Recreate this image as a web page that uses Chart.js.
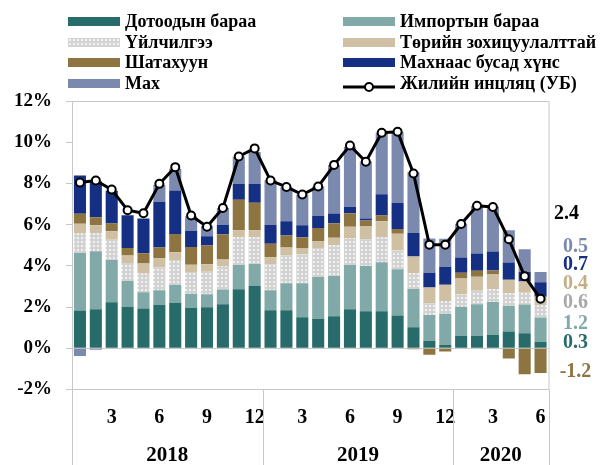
<!DOCTYPE html>
<html>
<head>
<meta charset="utf-8">
<script src="https://cdn.jsdelivr.net/npm/chart.js@4.4.1/dist/chart.umd.min.js"></script>
<style>
  body { margin: 0; background: #fff; }
  #wrap { position: relative; width: 606px; height: 465px; }
  #legend { position: absolute; left: 0; top: 0; width: 606px; height: 95px;
            font-family: 'Liberation Serif', 'Times New Roman', serif; font-weight: bold; font-size: 18px; color: #000; }
  .item { position: absolute; height: 22px; display: flex; align-items: center; white-space: nowrap; }
  .sw { width: 52px; height: 9px; margin-right: 5px; flex: none; }
  .dots { background-color: #d4d4d4;
          background-image: radial-gradient(#f2f2f2 0.9px, transparent 1.3px);
          background-size: 4px 4px; }
</style>
</head>
<body>
<div id="wrap">
  <canvas id="chart" width="606" height="465"></canvas>
  <div id="legend"></div>
</div>
<script>
// ── Data (Jan 2018 – Jun 2020, contribution to annual inflation, %) ─────────

const monthLabels = [1,2,3,4,5,6,7,8,9,10,11,12, 1,2,3,4,5,6,7,8,9,10,11,12, 1,2,3,4,5,6];
const years = ['2018', '2019', '2020'];
const yearSpans = [12, 12, 6];

const domestic = [1.83,1.90,2.24,2.01,1.93,2.11,2.21,1.95,1.99,2.14,2.87,3.02, 1.85,1.85,1.51,1.43,1.56,1.90,1.80,1.80,1.59,1.02,0.36,0.16, 0.60,0.60,0.66,0.81,0.73,0.30];
const imported = [2.79,2.81,2.04,1.25,0.79,0.71,0.86,0.70,0.63,0.71,1.17,1.07, 0.97,1.31,1.65,2.03,1.95,2.14,2.19,2.38,2.24,1.86,1.26,1.51, 1.41,1.54,1.59,1.26,1.39,1.20];
const services = [0.97,0.89,0.99,0.88,0.91,1.10,1.18,1.01,1.10,1.14,1.35,1.30, 1.26,1.36,1.39,1.41,1.49,1.31,1.30,1.20,0.92,0.76,0.55,0.62, 0.60,0.65,0.62,0.60,0.58,0.60];
const regulated = [0.45,0.37,0.41,0.36,0.49,0.45,0.41,0.39,0.36,0.32,0.34,0.34, 0.34,0.37,0.32,0.34,0.36,0.55,0.65,0.78,0.81,0.81,0.78,0.79, 0.78,0.68,0.73,0.66,0.54,0.40];
const fuel = [0.49,0.39,0.37,0.37,0.49,0.52,0.88,0.86,0.91,1.22,1.48,1.33, 0.65,0.58,0.52,0.63,0.71,0.65,0.26,0.28,0.23,-0.05,-0.31,-0.16, 0.28,0.29,0.18,-0.49,-1.26,-1.20];
const foodExMeat = [1.85,1.75,1.59,1.59,1.69,2.21,2.12,0.79,0.45,0.47,0.78,0.92, 0.91,0.70,0.58,0.58,0.47,0.31,0.10,1.04,1.26,1.14,0.71,0.88, 0.73,0.84,0.92,0.83,0.47,0.70];
const meat = [-0.37,-0.07,0.00,0.00,0.00,0.84,1.05,0.71,0.49,0.81,1.31,1.54, 2.17,1.65,1.48,1.43,2.35,2.92,2.76,2.98,3.45,2.95,1.67,1.36, 1.64,2.30,2.17,1.57,1.09,0.50];
const inflation = [8.04,8.14,7.70,6.70,6.55,7.98,8.79,6.44,5.90,6.81,9.31,9.70, 8.14,7.83,7.46,7.85,8.90,9.84,9.05,10.46,10.51,8.48,5.03,5.03, 6.03,6.92,6.86,5.29,3.50,2.40];

const FONT = "'Liberation Serif', 'Times New Roman', serif";

const COLORS = {
    domestic: '#276b6a',
    imported: '#80a9a7',
    services: '#d4d4d4',
    regulated: '#cfc0a4',
    fuel: '#8e7441',
    foodExMeat: '#152f83',
    meat: '#7b89ae'
};

// dotted fill for services
function dotPattern() {
    const c = document.createElement('canvas');
    c.width = 4; c.height = 4;
    const g = c.getContext('2d');
    g.fillStyle = '#d2d2d2';
    g.fillRect(0, 0, 4, 4);
    g.fillStyle = '#f0f0f0';
    g.fillRect(1, 1, 2, 2);
    return g.createPattern(c, 'repeat');
}

const SERIES = [
    { key: 'domestic', label: 'Дотоодын бараа', data: domestic, color: COLORS.domestic },
    { key: 'imported', label: 'Импортын бараа', data: imported, color: COLORS.imported },
    { key: 'services', label: 'Үйлчилгээ', data: services, color: dotPattern() },
    { key: 'regulated', label: 'Төрийн зохицуулалттай', data: regulated, color: COLORS.regulated },
    { key: 'fuel', label: 'Шатахуун', data: fuel, color: COLORS.fuel },
    { key: 'foodExMeat', label: 'Махнаас бусад хүнс', data: foodExMeat, color: COLORS.foodExMeat },
    { key: 'meat', label: 'Мах', data: meat, color: COLORS.meat }
];

// ── HTML legend (two columns) ────────────────────────────────────────────────

const legendOrder = [
    ['domestic', 'imported'],
    ['services', 'regulated'],
    ['fuel', 'foodExMeat'],
    ['meat', 'line']
];
const legendEl = document.getElementById('legend');
legendOrder.forEach((row, r) => {
    row.forEach((key, c) => {
        const item = document.createElement('div');
        item.className = 'item';
        item.style.left = (c === 0 ? 68 : 343) + 'px';
        item.style.top = (10.5 + r * 20.5) + 'px';
        let sw, text;
        if (key === 'line') {
            sw = document.createElement('span');
            sw.className = 'sw';
            sw.style.height = '12px';
            sw.innerHTML = '<svg width="52" height="12"><line x1="0" y1="6" x2="52" y2="6" stroke="#000" stroke-width="3"/>' +
                '<circle cx="26" cy="6" r="4" fill="#fff" stroke="#000" stroke-width="2"/></svg>';
            text = 'Жилийн инцляц (УБ)';
        } else {
            const s = SERIES.find(d => d.key === key);
            sw = document.createElement('span');
            sw.className = 'sw' + (key === 'services' ? ' dots' : '');
            if (key !== 'services') sw.style.background = COLORS[key];
            text = s.label;
        }
        item.appendChild(sw);
        item.appendChild(document.createTextNode(text));
        legendEl.appendChild(item);
    });
});

// ── Plugins: frame, year bands, end labels ──────────────────────────────────

const framePlugin = {
    id: 'frame',
    afterDraw(chart) {
        const { ctx, chartArea: a, scales: { x } } = chart;
        const pitch = (a.right - a.left) / monthLabels.length;
        ctx.save();
        ctx.strokeStyle = '#c8c8c8';
        ctx.lineWidth = 1;
        // right border of plot
        ctx.beginPath();
        ctx.moveTo(a.right + 0.5, a.top);
        ctx.lineTo(a.right + 0.5, a.bottom);
        ctx.stroke();
        // year separators below the axis
        let start = 0;
        const bounds = [0];
        yearSpans.forEach(n => { start += n; bounds.push(start); });
        bounds.forEach(b => {
            const px = Math.round(b < monthLabels.length ? x.getPixelForValue(b) - pitch / 2 : a.right) + 0.5;
            ctx.beginPath();
            ctx.moveTo(px, a.bottom);
            ctx.lineTo(px, chart.height);
            ctx.stroke();
        });
        // year labels
        ctx.fillStyle = '#000';
        ctx.font = 'bold 21px ' + FONT;
        ctx.textAlign = 'center';
        ctx.textBaseline = 'middle';
        years.forEach((yr, i) => {
            const l = x.getPixelForValue(bounds[i]) - pitch / 2;
            const r = x.getPixelForValue(bounds[i + 1] - 1) + pitch / 2;
            ctx.fillText(yr, (l + r) / 2, 456);
        });
        ctx.restore();
    }
};

const endLabelPlugin = {
    id: 'endLabels',
    afterDraw(chart) {
        const { ctx, chartArea: a } = chart;
        const last = monthLabels.length - 1;
        const items = [
            { v: meat[last], c: COLORS.meat },
            { v: foodExMeat[last], c: COLORS.foodExMeat },
            { v: regulated[last], c: '#c4ae86' },
            { v: services[last], c: '#a8a8a8' },
            { v: imported[last], c: COLORS.imported },
            { v: domestic[last], c: COLORS.domestic },
            { v: fuel[last], c: COLORS.fuel }
        ];
        ctx.save();
        ctx.font = 'bold 20px ' + FONT;
        ctx.textAlign = 'center';
        ctx.textBaseline = 'middle';
        ctx.fillStyle = '#000';
        ctx.fillText(inflation[last].toFixed(1), a.right + 18, 214);
        const ys = [247, 265, 284, 303, 324, 343, 372];
        items.forEach((it, i) => {
            ctx.fillStyle = it.c;
            ctx.fillText(it.v.toFixed(1), a.right + 27, ys[i]);
        });
        ctx.restore();
    }
};

// ── Chart ────────────────────────────────────────────────────────────────────

const barSets = SERIES.map(s => ({
    type: 'bar',
    label: s.label,
    data: s.data,
    backgroundColor: s.color,
    borderWidth: 0,
    barPercentage: 0.76,
    categoryPercentage: 1,
    order: 1
}));

new Chart(document.getElementById('chart'), {
    data: {
        labels: monthLabels.map(String),
        datasets: [
            ...barSets,
            {
                type: 'line',
                label: 'Жилийн инцляц (УБ)',
                data: inflation,
                stack: 'line',
                borderColor: '#000',
                borderWidth: 3,
                pointRadius: 4,
                pointBackgroundColor: '#fff',
                pointBorderColor: '#000',
                pointBorderWidth: 2,
                tension: 0,
                order: 0
            }
        ]
    },
    options: {
        responsive: false,
        animation: false,
        devicePixelRatio: 1,
        layout: { padding: { left: 0, right: 57.5, top: 101, bottom: 0 } },
        plugins: { legend: { display: false }, tooltip: { enabled: false } },
        scales: {
            x: {
                stacked: true,
                afterFit: s => { s.height = 75.5; },
                grid: { display: false, drawTicks: false },
                border: { display: true, color: '#c8c8c8', width: 1 },
                ticks: {
                    autoSkip: false,
                    maxRotation: 0,
                    padding: 16,
                    color: '#000',
                    font: { family: FONT, size: 20, weight: 'bold' },
                    callback: (v, i) => (monthLabels[i] % 3 === 0 ? String(monthLabels[i]) : '')
                }
            },
            y: {
                stacked: true,
                min: -2,
                max: 12,
                afterFit: s => { s.width = 72; },
                border: { display: true, color: '#c8c8c8', width: 1 },
                grid: {
                    color: c => (c.tick.value === 0 || c.tick.value === 12 ? '#c8c8c8' : 'rgba(0,0,0,0)'),
                    tickColor: '#c8c8c8',
                    tickLength: 6,
                    lineWidth: 1
                },
                ticks: {
                    stepSize: 2,
                    padding: 14,
                    color: '#000',
                    font: { family: FONT, size: 19, weight: 'bold' },
                    callback: v => v + '%'
                }
            }
        }
    },
    plugins: [framePlugin, endLabelPlugin]
});
</script>
</body>
</html>
